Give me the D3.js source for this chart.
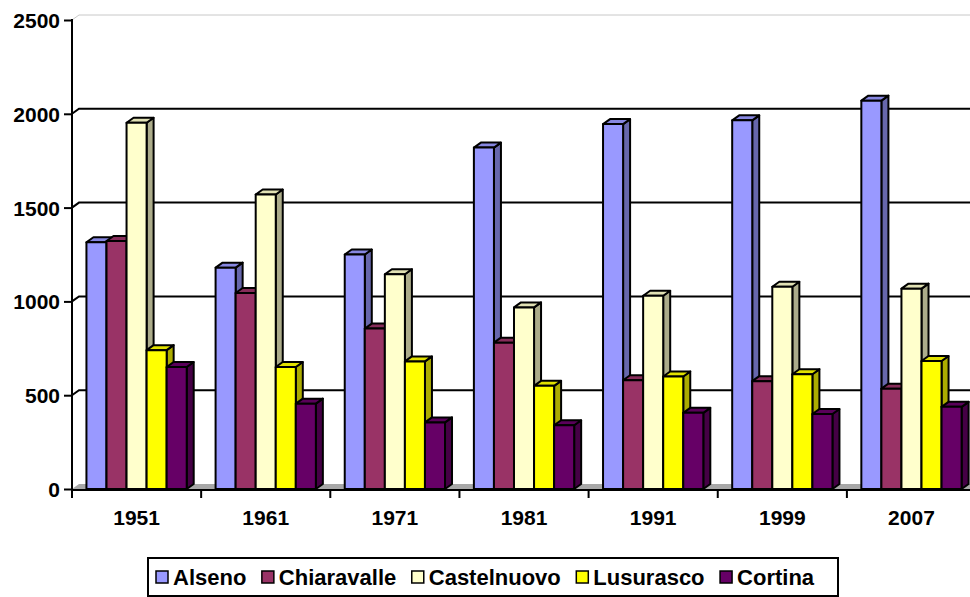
<!DOCTYPE html>
<html>
<head>
<meta charset="utf-8">
<script src="https://cdn.jsdelivr.net/npm/d3@7"></script>
<style>
  html, body { margin: 0; padding: 0; background: #fff; }
  svg { display: block; }
  text { font-family: "Liberation Sans", Arial, sans-serif; font-weight: bold; fill: #000; }
</style>
</head>
<body>
<svg id="chart" width="970" height="597"></svg>
<script>
// Census years and population per locality
const years = ["1951", "1961", "1971", "1981", "1991", "1999", "2007"];
const seriesNames = ["Alseno", "Chiaravalle", "Castelnuovo", "Lusurasco", "Cortina"];
const alseno      = [1315, 1180, 1250, 1820, 1945, 1965, 2070];
const chiaravalle = [1322, 1045, 855, 780, 580, 575, 535];
const castelnuovo = [1952, 1570, 1145, 968, 1030, 1078, 1068];
const lusurasco   = [740, 650, 680, 550, 600, 612, 682];
const cortina     = [650, 455, 355, 340, 406, 400, 438];
const yTicks = [0, 500, 1000, 1500, 2000, 2500];

const seriesValues = [alseno, chiaravalle, castelnuovo, lusurasco, cortina];
const colors = ["#9999FF", "#993366", "#FFFFCC", "#FFFF00", "#660066"];

const svg = d3.select("#chart");

// front plane of the 3D box
const plotLeft = 72, plotBottom = 489, plotTop = 20;
const step = 129.15;
const depthX = 7, depthY = -5;

const x0 = d3.scaleBand().domain(years).range([plotLeft, plotLeft + step * years.length]).padding(0);
const x1 = d3.scaleBand().domain(seriesNames).range([0, x0.bandwidth()]).paddingInner(0).paddingOuter(0.72);
const y = d3.scaleLinear().domain([0, 2500]).range([plotBottom, plotTop]);
const plotRight = plotLeft + step * years.length;

const shade = (c, k) => d3.rgb(c).darker(k).formatHex();

// floor
svg.append("path")
  .attr("d", `M${plotLeft},${plotBottom} L${plotRight},${plotBottom} L${plotRight + depthX},${plotBottom + depthY} L${plotLeft + depthX},${plotBottom + depthY} Z`)
  .attr("fill", "#a8a8a8");

// gridlines on side wall and back wall
const grid = svg.append("g");
yTicks.filter(t => t > 0).forEach(t => {
  const yy = y(t);
  grid.append("path")
    .attr("d", `M${plotLeft},${yy} L${plotLeft + depthX},${yy + depthY} L${plotRight + depthX},${yy + depthY}`)
    .attr("fill", "none")
    .attr("stroke", t === 2500 ? "#c8c8c8" : "#000")
    .attr("stroke-width", t === 2500 ? 1 : 2);
});

// 3D columns
const bars = svg.append("g").attr("stroke", "#000").attr("stroke-width", 2).attr("stroke-linejoin", "round");
years.forEach((yr, i) => {
  seriesNames.forEach((name, s) => {
    const v = seriesValues[s][i];
    const xa = x0(yr) + x1(name);
    const xb = xa + x1.bandwidth();
    const yt = y(v), yb = y(0);
    const c = colors[s];
    const g = bars.append("g");
    // right side face
    g.append("path")
      .attr("d", `M${xb},${yb} L${xb},${yt} L${xb + depthX},${yt + depthY} L${xb + depthX},${yb + depthY} Z`)
      .attr("fill", shade(c, 1.1));
    // top face
    g.append("path")
      .attr("d", `M${xa},${yt} L${xb},${yt} L${xb + depthX},${yt + depthY} L${xa + depthX},${yt + depthY} Z`)
      .attr("fill", shade(c, 0.35));
    // front face
    g.append("rect")
      .attr("x", xa).attr("y", yt)
      .attr("width", xb - xa).attr("height", yb - yt)
      .attr("fill", c);
  });
});

// value axis
const yAxis = d3.axisLeft(y).tickValues(yTicks).tickSize(8).tickPadding(4).tickFormat(d3.format("d"));
const gy = svg.append("g").attr("transform", `translate(${plotLeft},0)`).call(yAxis);
gy.select(".domain").attr("d", `M0,${plotTop - 1}V${plotBottom + 8}`).attr("stroke", "#000").attr("stroke-width", 2);
gy.selectAll(".tick line").attr("stroke", "#000").attr("stroke-width", 2);
gy.selectAll(".tick text").style("font-size", "21px").attr("dy", "0.36em");

// category axis
const xAxis = d3.axisBottom(x0).tickSize(0).tickPadding(0);
const gx = svg.append("g").attr("transform", `translate(0,${plotBottom + 1})`).call(xAxis);
gx.select(".domain").attr("d", `M${plotLeft},0H${plotRight}`).attr("stroke", "#000").attr("stroke-width", 2);
gx.selectAll(".tick text").style("font-size", "21px").attr("y", 35).attr("dy", "0");
// boundary tick marks between categories
gx.selectAll(".sep").data(d3.range(years.length + 1)).enter().append("line")
  .attr("class", "sep")
  .attr("x1", i => plotLeft + i * step).attr("x2", i => plotLeft + i * step)
  .attr("y1", 0).attr("y2", 8)
  .attr("stroke", "#000").attr("stroke-width", 2);

// legend
const lg = svg.append("g");
lg.append("rect").attr("x", 148).attr("y", 558).attr("width", 690).attr("height", 38)
  .attr("fill", "#fff").attr("stroke", "#000").attr("stroke-width", 2);
let lx = 156;
seriesNames.forEach((name, s) => {
  lg.append("rect").attr("x", lx).attr("y", 571).attr("width", 12).attr("height", 12)
    .attr("fill", colors[s]).attr("stroke", "#000").attr("stroke-width", 1.5);
  const t = lg.append("text").attr("x", lx + 17).attr("y", 585).style("font-size", "22px").text(name);
  lx += 17 + t.node().getComputedTextLength() + 15.5;
});
</script>
</body>
</html>
